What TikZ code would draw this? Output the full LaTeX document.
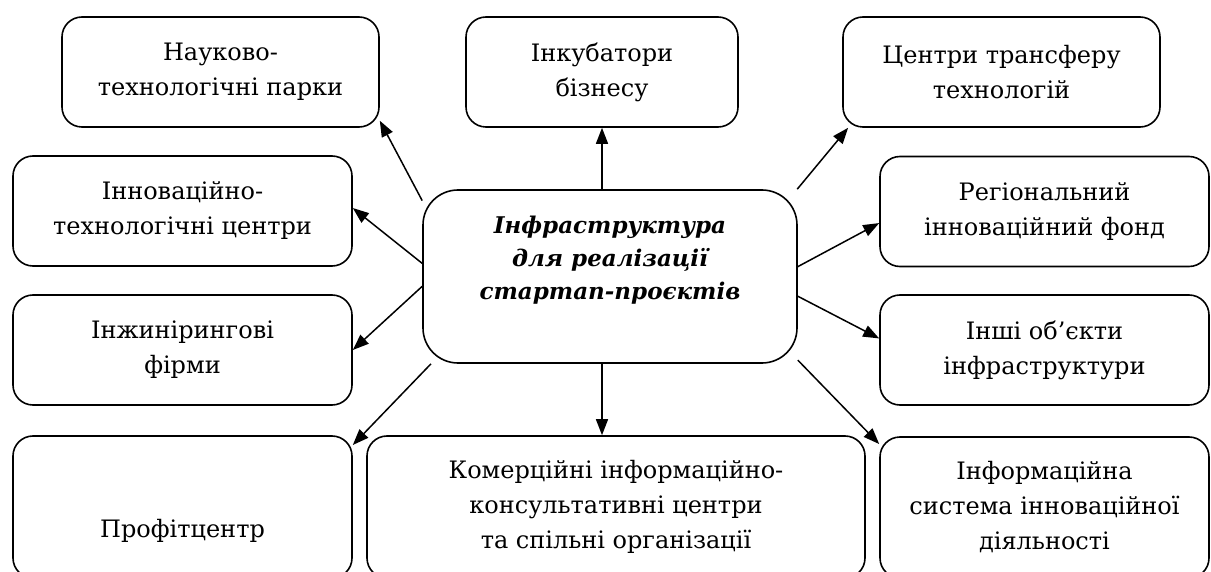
\documentclass[tikz,border=0pt]{standalone}
\usepackage{fontspec}
\setmainfont{DejaVu Serif}
\usetikzlibrary{arrows.meta}
\begin{document}
\begin{tikzpicture}[x=1pt,y=-1pt,
  box/.style={draw,line width=1.6pt,rounded corners=20pt,align=center,
    font=\fontsize{24}{35}\selectfont,inner sep=0pt},
  hub/.style={draw,line width=1.6pt,rounded corners=35pt,align=center,
    inner sep=0pt,minimum width=374pt,minimum height=173pt},
  hubfont/.style={font=\fontsize{23}{33}\selectfont\bfseries\itshape,align=center},
  link/.style={line width=1.5pt,-{Triangle[length=16pt,width=12pt]}}]
\useasboundingbox (0,0) rectangle (1211,572);
% hub
\node[hub] (hub) at (610,276.5) {};
\node[hubfont] (hubtext) at (610,260)
  {Інфраструктура\\для реалізації\\стартап-проєктів};
% upper row
\node[box,minimum width=317pt,minimum height=110pt] (park) at (220.5,72) {Науково-\\технологічні парки};
\node[box,minimum width=272pt,minimum height=110pt] (incub) at (602,72) {Інкубатори\\бізнесу};
\node[box,minimum width=317pt,minimum height=110pt] (transfer) at (1001.5,72) {Центри трансферу\\технологій};
% left column
\node[box,minimum width=339pt,minimum height=110pt] (innov) at (182.5,211) {Інноваційно-\\технологічні центри};
\node[box,minimum width=339pt,minimum height=110pt] (eng) at (182.5,350) {Інжинірингові\\фірми};
\node[box,minimum width=339pt,minimum height=142pt] (profit) at (182.5,507) {};
\node[font=\fontsize{24}{35}\selectfont] (profittext) at (182.5,531) {Профітцентр};
% right column
\node[box,minimum width=329pt,minimum height=110pt] (regional) at (1044.5,211.5) {Регіональний\\інноваційний фонд};
\node[box,minimum width=329pt,minimum height=110pt] (other) at (1044.5,350) {Інші об’єкти\\інфраструктури};
\node[box,minimum width=329pt,minimum height=141pt] (infosys) at (1044.5,507.5) {Інформаційна\\система інноваційної\\діяльності};
% bottom middle
\node[box,minimum width=498pt,minimum height=142pt] (comm) at (616,507) {Комерційні інформаційно-\\консультативні центри\\та спільні організації};
% connectors
\draw[link] (hub.north -| incub.south) -- (incub.south);
\draw[link] (hub.south -| incub.south) -- (comm.north -| incub.south);
\draw[link] (hub.158) -- (park.-17.5);
\draw[link] (hub.176.5) -- (innov.1.7);
\draw[link] (hub.183.5) -- (eng.-0.7);
\draw[link] (hub.206) -- (profit.20.2);
\draw[link] (hub.25.5) -- (transfer.200.3);
\draw[link] (hub.3.5) -- (regional.184);
\draw[link] (hub.-6.6) -- (other.176.5);
\draw[link] (hub.-24.5) -- (infosys.159.2);
\end{tikzpicture}
\end{document}
